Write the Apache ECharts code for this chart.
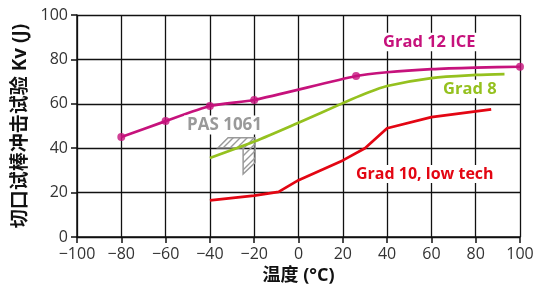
<!DOCTYPE html>
<html>
<head>
<meta charset="utf-8">
<script src="https://cdn.jsdelivr.net/npm/echarts@6/dist/echarts.min.js"></script>
<style>
  html, body { margin: 0; padding: 0; background: #fff; }
  #chart { width: 543px; height: 291px; }
</style>
</head>
<body>
<div id="chart"></div>
<script>
// 数据
const xTicks = [-100, -80, -60, -40, -20, 0, 20, 40, 60, 80, 100];
const yTicks = [0, 20, 40, 60, 80, 100];

const grad12 = [[-80, 45], [-60, 52.2], [-40, 59], [-20, 61.7], [26, 72.5], [40, 74.2], [60, 75.6], [80, 76.3], [100, 76.7]];
const grad12Markers = [[-80, 45], [-60, 52.2], [-40, 59], [-20, 61.7], [26, 72.5], [100, 76.7]];
const grad8 = [[-40, 35.6], [-20, 43], [0, 51.5], [20, 60.3], [30, 64.5], [40, 68], [60, 71.6], [80, 73], [93, 73.4]];
const grad10 = [[-40, 16.5], [-20, 18.6], [-9, 20.3], [0, 25.6], [20, 34.5], [30, 40], [40, 49], [60, 54], [87, 57.5]];
const pasShape = [[-36.3, 40.2], [-31.8, 44.7], [-19.6, 44.7], [-19.6, 33.5], [-25, 28.4], [-25, 40.2]];

const pink = "#c6127c";
const green = "#95c11f";
const red = "#e30613";
const font = "'Open Sans', 'Noto Sans CJK SC', sans-serif";

// 斜线填充
const hatch = document.createElement("canvas");
hatch.width = 7;
hatch.height = 7;
const hctx = hatch.getContext("2d");
hctx.strokeStyle = "#9a9a9a";
hctx.lineWidth = 1.4;
hctx.beginPath();
hctx.moveTo(-1, 8); hctx.lineTo(8, -1);
hctx.moveTo(-1, 1); hctx.lineTo(1, -1);
hctx.moveTo(6, 8); hctx.lineTo(8, 6);
hctx.stroke();

const fmt = (v) => String(v).replace("-", "\u2212");

// 系列标签（白底）
const label = (text, x, y, color, size) => ({
  type: "text",
  x: x,
  y: y,
  z: 10,
  style: {
    text: text,
    fill: color,
    font: "bold " + size + "px " + font,
    textVerticalAlign: "middle",
    backgroundColor: "#fff",
    padding: [1, 3],
  },
});

const chart = echarts.init(document.getElementById("chart"));

const option = {
  animation: false,
  grid: { left: 77, right: 23, top: 15, bottom: 54 },
  xAxis: {
    type: "value",
    min: xTicks[0],
    max: xTicks[xTicks.length - 1],
    interval: 20,
    name: "温度 (°C)",
    nameLocation: "middle",
    nameGap: 29,
    nameTextStyle: { fontSize: 18, fontWeight: "bold", color: "#111", fontFamily: font },
    axisLine: { lineStyle: { color: "#111", width: 1.5 } },
    axisTick: { length: 6, lineStyle: { color: "#111", width: 1.5 } },
    axisLabel: { color: "#333", fontSize: 16, fontFamily: font, margin: 9, formatter: fmt },
    splitLine: { show: true, lineStyle: { color: "#111", width: 1.3 } },
  },
  yAxis: {
    type: "value",
    min: yTicks[0],
    max: yTicks[yTicks.length - 1],
    interval: 20,
    name: "切口试棒冲击试验 Kv (J)",
    nameLocation: "middle",
    nameGap: 47,
    nameRotate: 90,
    nameTextStyle: { fontSize: 19, fontWeight: "bold", color: "#111", fontFamily: font },
    axisLine: { show: true, onZero: false, lineStyle: { color: "#111", width: 1.5 } },
    axisTick: { show: true, length: 6, lineStyle: { color: "#111", width: 1.5 } },
    axisLabel: { color: "#333", fontSize: 16, fontFamily: font, margin: 9 },
    splitLine: { show: true, lineStyle: { color: "#111", width: 1.3 } },
  },
  series: [
    {
      name: "PAS 1061",
      type: "custom",
      renderItem: (params, api) => {
        const pts = pasShape.map((p) => api.coord(p));
        return {
          type: "polygon",
          shape: { points: pts },
          style: {
            fill: { image: hatch, repeat: "repeat" },
            stroke: "#9a9a9a",
            lineWidth: 1.5,
          },
        };
      },
      data: [0],
      z: 1,
    },
    {
      name: "Grad 10, low tech",
      type: "line",
      data: grad10,
      showSymbol: false,
      lineStyle: { color: red, width: 2.7 },
      z: 3,
    },
    {
      name: "Grad 8",
      type: "line",
      data: grad8,
      smooth: 0.3,
      showSymbol: false,
      lineStyle: { color: green, width: 2.7 },
      z: 3,
    },
    {
      name: "Grad 12 ICE",
      type: "line",
      data: grad12,
      smooth: 0.2,
      showSymbol: false,
      lineStyle: { color: pink, width: 2.7 },
      z: 4,
    },
    {
      name: "Grad 12 ICE markers",
      type: "scatter",
      data: grad12Markers,
      symbolSize: 8,
      itemStyle: { color: pink },
      z: 5,
    },
  ],
  graphic: [
    label("Grad 12 ICE", 380, 42, pink, 16.5),
    label("Grad 8", 440, 89, green, 16.5),
    label("Grad 10, low tech", 353, 174, red, 16),
    label("PAS 1061", 184, 125, "#999", 17),
  ],
};

chart.setOption(option);
</script>
</body>
</html>
